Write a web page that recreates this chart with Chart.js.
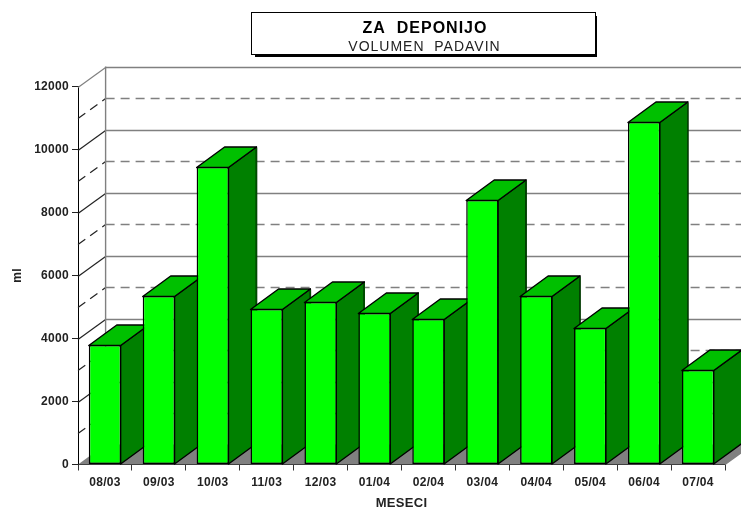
<!DOCTYPE html>
<html><head><meta charset="utf-8">
<style>html,body{margin:0;padding:0;background:#fff}#w{width:741px;height:511px;position:relative}</style>
<script src="https://cdn.jsdelivr.net/npm/chart.js@4"></script></head>
<body><div id="w"><canvas id="c" width="741" height="511"></canvas></div>
<script>
const categories = ['08/03','09/03','10/03','11/03','12/03','01/04','02/04','03/04','04/04','05/04','06/04','07/04'];
const values = [3794,5349,9444,4936,5159,4810,4619,8397,5349,4333,10873,3000];
const titleMain = 'ZA  DEPONIJO';
const titleSub = 'VOLUMEN  PADAVIN';
const yTitle = 'ml';
const xTitle = 'MESECI';
const yMax = 12000, yStep = 2000, dashStep = 1000;
const DX = 27.6, DY = -20, BDX = 28, BDY = -20.5;
const FONT = '"Liberation Sans", Arial, sans-serif';

const depth3d = {
  id:'depth3d',
  beforeDraw(chart){ chart.ctx.letterSpacing = '0.3px'; },
  beforeDatasetsDraw(chart){
    const {ctx, chartArea:a, scales:{y}} = chart;
    const L = a.left, R = a.right;
    ctx.save();
    ctx.lineWidth = 1.4;
    // floor
    const y0 = y.getPixelForValue(0);
    ctx.fillStyle = '#808080';
    ctx.beginPath();
    ctx.moveTo(L,y0);ctx.lineTo(R,y0);ctx.lineTo(R+DX,y0+DY);ctx.lineTo(L+DX,y0+DY);ctx.closePath();ctx.fill();
    // wall lines
    for(let v=dashStep; v<=yMax; v+=dashStep){
      const p = Math.round(y.getPixelForValue(v))+0.5;
      const major = v % yStep === 0;
      ctx.setLineDash(major?[]:[9,6]);
      ctx.strokeStyle = '#808080';
      ctx.beginPath();ctx.moveTo(L+DX,p+DY);ctx.lineTo(R+DX,p+DY);ctx.stroke();
      ctx.strokeStyle = v===yMax ? '#808080' : '#222';
      ctx.lineWidth = 1.2;
      ctx.beginPath();ctx.moveTo(L,p);ctx.lineTo(L+DX,p+DY);ctx.stroke();
      ctx.lineWidth = 1.4;
    }
    ctx.setLineDash([]);
    ctx.strokeStyle = '#808080';
    ctx.beginPath();
    ctx.moveTo(L+DX,y.getPixelForValue(yMax)+DY);ctx.lineTo(L+DX,y0+DY);ctx.stroke();
    ctx.beginPath();ctx.moveTo(R,y0);ctx.lineTo(R+DX,y0+DY);ctx.stroke();
    // bar sides and tops
    ctx.lineWidth = 1.4;
    ctx.lineJoin = 'round';
    chart.getDatasetMeta(0).data.forEach(b=>{
      const l = b.x-b.width/2, r = b.x+b.width/2-0.5, t = b.y+0.5, bt = b.base;
      ctx.strokeStyle = '#000';
      ctx.fillStyle = '#008000';
      ctx.beginPath();
      ctx.moveTo(r,t);ctx.lineTo(r+BDX,t+BDY);ctx.lineTo(r+BDX,bt+BDY);ctx.lineTo(r,bt);ctx.closePath();
      ctx.fill();ctx.stroke();
      ctx.fillStyle = '#00C000';
      ctx.beginPath();
      ctx.moveTo(l,t);ctx.lineTo(l+BDX,t+BDY);ctx.lineTo(r+BDX,t+BDY);ctx.lineTo(r,t);ctx.closePath();
      ctx.fill();ctx.stroke();
      ctx.strokeStyle = '#004c00';
      ctx.beginPath();ctx.moveTo(r+BDX,t+BDY+1);ctx.lineTo(r+BDX,bt+BDY);ctx.stroke();
    });
    ctx.restore();
  },
  afterDraw(chart){
    const {ctx} = chart;
    ctx.save();
    ctx.fillStyle = '#000';
    ctx.fillRect(255,16,342,41);
    ctx.fillStyle = '#fff';
    ctx.fillRect(252,13,343,42);
    ctx.strokeStyle = '#000';
    ctx.lineWidth = 1;
    ctx.strokeRect(251.5,12.5,344,42);
    ctx.fillStyle = '#000';
    ctx.textAlign = 'center';
    ctx.textBaseline = 'alphabetic';
    ctx.letterSpacing = '1px';
    ctx.font = 'bold 16px '+FONT;
    ctx.fillText(titleMain,425,33);
    ctx.fillStyle = '#222';
    ctx.font = '14px '+FONT;
    ctx.fillText(titleSub,424.5,51);
    ctx.restore();
  }
};

new Chart(document.getElementById('c'),{
  type:'bar',
  data:{labels:categories,datasets:[{data:values,backgroundColor:'#00FF00',borderColor:'#000',borderWidth:1.5,borderSkipped:false,categoryPercentage:1,barPercentage:0.6}]},
  plugins:[depth3d],
  options:{
    responsive:false,animation:false,
    layout:{padding:{top:86.5,right:16,left:0,bottom:0}},
    plugins:{legend:{display:false},tooltip:{enabled:false},title:{display:false}},
    scales:{
      x:{
        grid:{drawOnChartArea:false,drawTicks:true,tickLength:6,color:'#333',offset:true},
        border:{color:'#000',width:1},
        ticks:{color:'#222',font:{family:FONT,size:12,weight:'bold'},padding:5,maxRotation:0,autoSkip:false},
        title:{display:true,text:xTitle,color:'#222',font:{family:FONT,size:13,weight:'bold'},padding:{top:4,bottom:0}},
        afterFit(s){s.height=46.5;}
      },
      y:{
        min:0,max:yMax,
        grid:{drawOnChartArea:false,drawTicks:true,tickLength:6,color:'#222'},
        border:{color:'#000',width:1},
        ticks:{stepSize:yStep,color:'#222',font:{family:FONT,size:12,weight:'bold'},padding:3,callback:v=>String(v)},
        title:{display:true,text:yTitle,color:'#222',font:{family:FONT,size:12,weight:'bold'},padding:{top:10,bottom:0}},
        afterFit(s){s.width=78;}
      }
    }
  }
});
</script></body></html>
